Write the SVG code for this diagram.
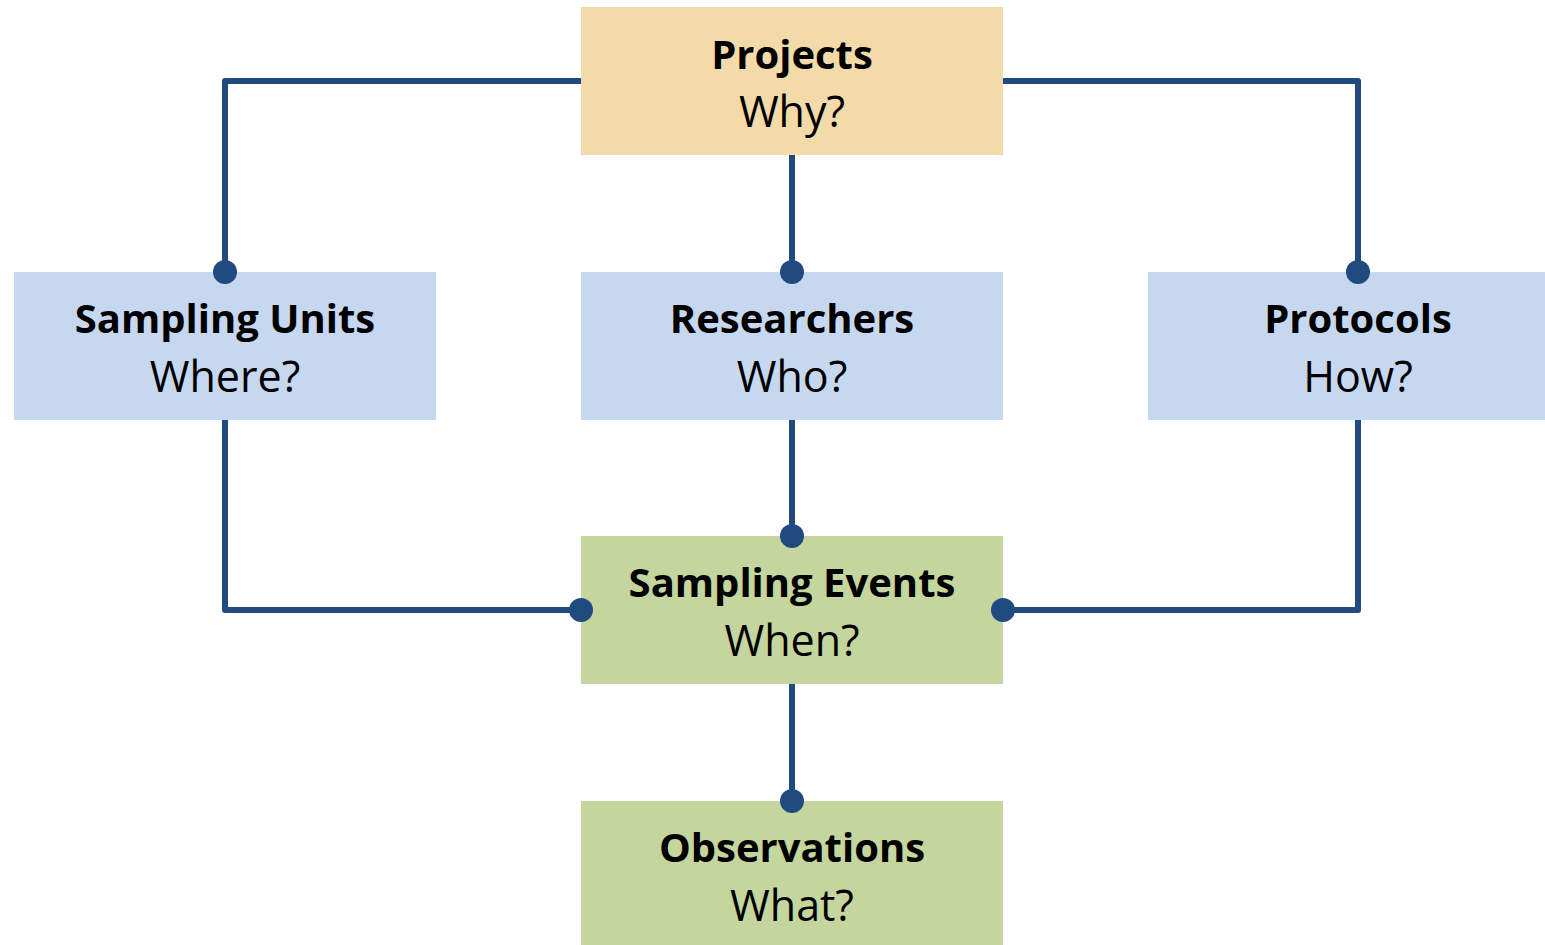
<svg xmlns="http://www.w3.org/2000/svg" width="1545" height="945" viewBox="0 0 1545 945">
<style>
.t{font-family:"Open Sans","Noto Sans",sans-serif;font-weight:700;font-size:40px;fill:#000;text-anchor:middle}
.s{font-family:"Open Sans","Noto Sans",sans-serif;font-weight:400;font-size:43px;fill:#000;text-anchor:middle}
.c{fill:none;stroke:#214a7f;stroke-width:6;stroke-linejoin:round}
.d{fill:#214a7f}
.y{fill:#f3dba9}.b{fill:#c6d8f0}.g{fill:#c4d69d}
</style>
<rect width="1545" height="945" fill="#fff"/>
<g id="projects"><rect class="y" x="581" y="7" width="422" height="148"/><text class="t" x="792" y="69">Projects</text><text class="s" x="792" y="127">Why?</text></g>
<g id="sampling-units"><rect class="b" x="14" y="272" width="422" height="148"/><text class="t" x="225" y="333">Sampling Units</text><text class="s" x="225" y="392">Where?</text></g>
<g id="researchers"><rect class="b" x="581" y="272" width="422" height="148"/><text class="t" x="792" y="333">Researchers</text><text class="s" x="792" y="392">Who?</text></g>
<g id="protocols"><rect class="b" x="1148" y="272" width="397" height="148"/><text class="t" x="1358" y="333">Protocols</text><text class="s" x="1358" y="392">How?</text></g>
<g id="sampling-events"><rect class="g" x="581" y="536" width="422" height="148"/><text class="t" x="792" y="597">Sampling Events</text><text class="s" x="792" y="656">When?</text></g>
<g id="observations"><rect class="g" x="581" y="801" width="422" height="144"/><text class="t" x="792" y="862">Observations</text><text class="s" x="792" y="921">What?</text></g>
<g id="connectors">
<path class="c" d="M581 81H225V272"/>
<path class="c" d="M1003 81H1358V272"/>
<path class="c" d="M792 155V272"/>
<path class="c" d="M225 420V610H581"/>
<path class="c" d="M1358 420V610H1003"/>
<path class="c" d="M792 420V536"/>
<path class="c" d="M792 684V801"/>
<circle class="d" cx="225" cy="272" r="12"/>
<circle class="d" cx="792" cy="272" r="12"/>
<circle class="d" cx="1358" cy="272" r="12"/>
<circle class="d" cx="792" cy="536" r="12"/>
<circle class="d" cx="581" cy="610" r="12"/>
<circle class="d" cx="1003" cy="610" r="12"/>
<circle class="d" cx="792" cy="801" r="12"/>
</g>
</svg>
